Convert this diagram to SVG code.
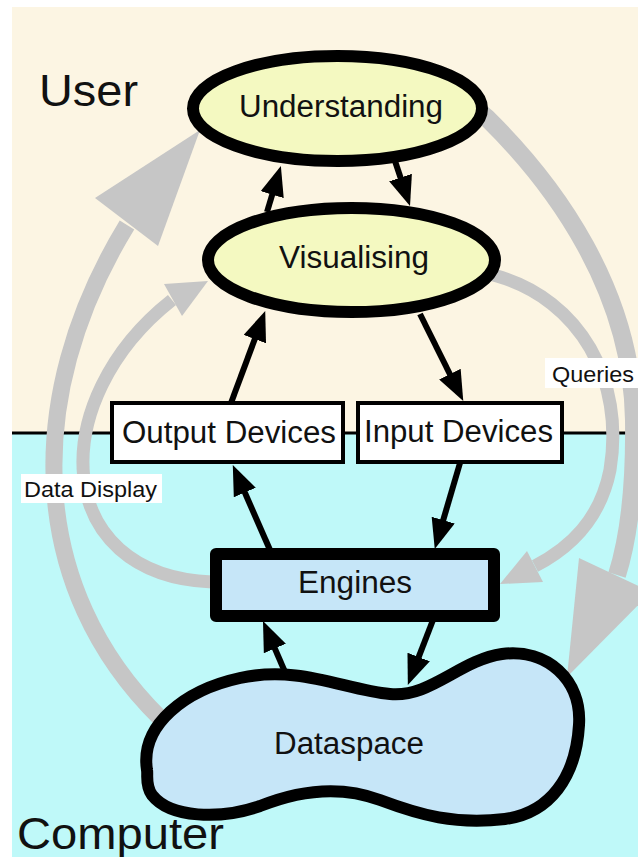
<svg xmlns="http://www.w3.org/2000/svg" width="638" height="857" viewBox="0 0 638 857">
  <style>
    text { font-family: "Liberation Sans", Arial, Helvetica, sans-serif; fill: #111; }
    .zone-label { font-size: 44px; }
    .node-label { font-size: 31px; }
    .flow-label { font-size: 22px; }
    .tag { fill: #ffffff; }
    .ellipse-node { fill: #f4f9c1; stroke: #000; stroke-width: 12; }
    .device { fill: #ffffff; stroke: #000; stroke-width: 4; }
    .system { fill: #c6e6f8; stroke: #000; stroke-width: 12; stroke-linejoin: round; }
    .flow { fill: none; stroke: #c6c6c6; }
    .flow-head { fill: #c6c6c6; }
    .link { fill: none; stroke: #000; stroke-width: 6; marker-end: url(#head); }
  </style>
  <defs>
    <marker id="head" markerUnits="userSpaceOnUse" viewBox="0 0 30 24" markerWidth="30" markerHeight="24" refX="11" refY="12" orient="auto">
      <path d="M0,0 L30,12 L0,24 Z" fill="#000"/>
    </marker>
  </defs>

  <!-- page and the two zones -->
  <rect width="638" height="857" fill="#ffffff"/>
  <rect x="12" y="7" width="626" height="426" fill="#fcf5e3"/>
  <rect x="12" y="433" width="626" height="424" fill="#bff9f9"/>
  <line id="boundary" x1="12" y1="433" x2="638" y2="433" stroke="#000" stroke-width="3"/>

  <text class="zone-label" x="39" y="106" textLength="99" lengthAdjust="spacingAndGlyphs">User</text>
  <text class="zone-label" x="17" y="849" textLength="207" lengthAdjust="spacingAndGlyphs">Computer</text>

  <g id="connectors">
    <!-- wide grey flows -->
    <path class="flow" stroke-width="17" d="M172,733 L160,718 C30,590 20,400 127,225"/>
    <polygon class="flow-head" points="200,130 95,198 158,246"/>

    <path class="flow" stroke-width="13" d="M212,582 C50,575 45,400 172,300"/>
    <polygon class="flow-head" points="208,281 164,284 182,316"/>

    <path class="flow" stroke-width="18" d="M480,112 L487,118 C555,185 632,290 634,420 C635,490 628,540 617,575"/>
    <polygon class="flow-head" points="567,677 579,558 651,592"/>

    <path class="flow" stroke-width="13" d="M490,274 L497,276 C580,300 625,380 610,470 C600,520 570,548 535,566"/>
    <polygon class="flow-head" points="500,584 527,551 543,582"/>

    <!-- black links between nodes -->
    <line class="link" x1="267" y1="212" x2="275.4" y2="184.1"/>
    <line class="link" x1="395" y1="161" x2="404" y2="188"/>
    <line class="link" x1="231" y1="403" x2="258.6" y2="328.8"/>
    <line class="link" x1="420" y1="314" x2="454.8" y2="384"/>
    <line class="link" x1="270" y1="550" x2="240.4" y2="482.4"/>
    <line class="link" x1="460" y1="463" x2="440.1" y2="530.7"/>
    <line class="link" x1="285" y1="672" x2="270.5" y2="638.4"/>
    <line class="link" x1="433" y1="620" x2="414.7" y2="667.3"/>
  </g>

  <g id="understanding">
    <ellipse class="ellipse-node" cx="337.5" cy="108.5" rx="144.5" ry="52.5"/>
    <text class="node-label" x="239" y="117" textLength="204" lengthAdjust="spacingAndGlyphs">Understanding</text>
  </g>

  <g id="visualising">
    <ellipse class="ellipse-node" cx="351.5" cy="260" rx="143.5" ry="52"/>
    <text class="node-label" x="279" y="268" textLength="150" lengthAdjust="spacingAndGlyphs">Visualising</text>
  </g>

  <g id="output-devices">
    <rect class="device" x="112" y="403" width="231" height="59"/>
    <text class="node-label" x="122" y="443" textLength="214" lengthAdjust="spacingAndGlyphs">Output Devices</text>
  </g>

  <g id="input-devices">
    <rect class="device" x="358" y="403" width="204" height="59"/>
    <text class="node-label" x="364" y="442" textLength="189" lengthAdjust="spacingAndGlyphs">Input Devices</text>
  </g>

  <g id="engines">
    <rect class="system" x="216" y="554" width="278" height="62"/>
    <text class="node-label" x="298" y="593" textLength="114" lengthAdjust="spacingAndGlyphs">Engines</text>
  </g>

  <g id="dataspace">
    <path class="system" d="M147,770 C140,725 185,690 240,678 C300,665 345,690 390,694 C430,698 460,660 502,654 C547,648 582,680 579,725 C576,777 550,813 505,819 C455,825 420,815 380,800 C340,785 300,790 260,806 C220,820 170,818 152,795 C145,785 148,775 147,770 Z"/>
    <text class="node-label" x="274" y="754" textLength="150" lengthAdjust="spacingAndGlyphs">Dataspace</text>
  </g>

  <!-- flow labels -->
  <g id="queries-label">
    <rect class="tag" x="545" y="358" width="93" height="30"/>
    <text class="flow-label" x="552" y="382" textLength="82" lengthAdjust="spacingAndGlyphs">Queries</text>
  </g>
  <g id="data-display-label">
    <rect class="tag" x="21" y="474" width="141" height="29"/>
    <text class="flow-label" x="24" y="497" textLength="133" lengthAdjust="spacingAndGlyphs">Data Display</text>
  </g>
</svg>
